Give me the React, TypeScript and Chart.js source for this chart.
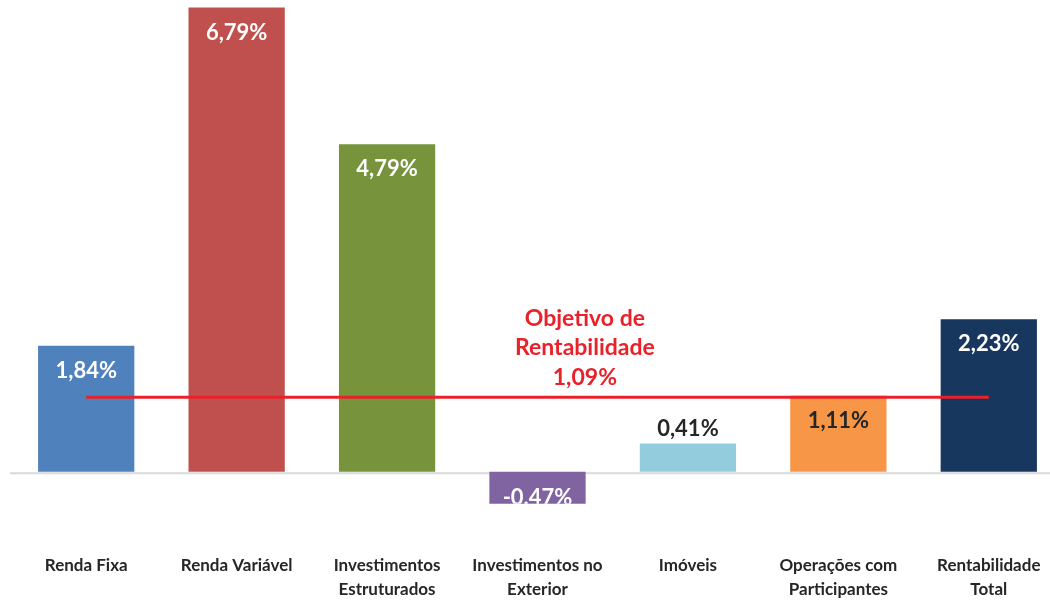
import React, { useEffect, useRef } from 'react';
import { Chart, registerables } from 'chart.js';

Chart.register(...registerables);

// ---- data ----
const categories: string[][] = [
  ['Renda Fixa'],
  ['Renda Variável'],
  ['Investimentos', 'Estruturados'],
  ['Investimentos no', 'Exterior'],
  ['Imóveis'],
  ['Operações com', 'Participantes'],
  ['Rentabilidade', 'Total'],
];
const returns = [1.84, 6.79, 4.79, -0.47, 0.41, 1.11, 2.23];
const returnLabels = ['1,84%', '6,79%', '4,79%', '-0.47%', '0,41%', '1,11%', '2,23%'];
const targetValue = 1.09;
const targetLabel = ['Objetivo de', 'Rentabilidade', '1,09%'];

// ---- styles ----
const barColors = ['#4F81BD', '#C0504D', '#77933C', '#8064A2', '#93CDDD', '#F79646', '#17375E'];
const labelColors = ['#FFFFFF', '#FFFFFF', '#FFFFFF', '#FFFFFF', '#262626', '#262626', '#FFFFFF'];
const RED = '#E8212A';
const FONT = 'Lato, "Open Sans", sans-serif';

const overlayPlugin = {
  id: 'overlay',
  beforeDatasetsDraw(chart: any) {
    const { ctx, chartArea, scales } = chart;
    const y0 = scales.y.getPixelForValue(0);
    ctx.save();
    ctx.strokeStyle = '#D9D9D9';
    ctx.lineWidth = 2;
    ctx.beginPath();
    ctx.moveTo(chartArea.left - 1, y0 + 1.5);
    ctx.lineTo(chartArea.right, y0 + 1.5);
    ctx.stroke();
    ctx.restore();
  },
  afterDatasetsDraw(chart: any) {
    const { ctx, scales } = chart;
    const y0 = scales.y.getPixelForValue(0);
    const meta = chart.getDatasetMeta(1);
    ctx.save();
    ctx.font = `bold 22px ${FONT}`;
    ctx.textAlign = 'center';
    ctx.textBaseline = 'middle';
    meta.data.forEach((el: any, i: number) => {
      const v = returns[i];
      ctx.fillStyle = labelColors[i];
      if (v < 0) {
        ctx.save();
        ctx.beginPath();
        ctx.rect(el.x - el.width / 2, el.base, el.width, el.y - el.base);
        ctx.clip();
        ctx.fillText(returnLabels[i], el.x, y0 + 26);
        ctx.restore();
      } else if (el.base - el.y < 45) {
        ctx.fillText(returnLabels[i], el.x, el.y - 15);
      } else {
        ctx.fillText(returnLabels[i], el.x, el.y + 25);
      }
    });
    // target annotation
    const yt = scales.y.getPixelForValue(targetValue);
    const xs = scales.x;
    const xt = xs.getPixelForValue(3) + (xs.getPixelForValue(4) - xs.getPixelForValue(3)) * 0.315;
    ctx.fillStyle = RED;
    ctx.font = `bold 23px ${FONT}`;
    const lh = 29.5;
    targetLabel.forEach((t, k) => {
      ctx.fillText(t, xt, yt - 20 - (targetLabel.length - 1 - k) * lh);
    });
    ctx.restore();
  },
};

export default function App() {
  const ref = useRef<HTMLCanvasElement>(null);
  useEffect(() => {
    if (!ref.current) return;
    const chart = new Chart(ref.current, {
      type: 'bar',
      data: {
        labels: categories,
        datasets: [
          {
            type: 'line',
            data: categories.map(() => targetValue),
            borderColor: RED,
            borderWidth: 3,
            pointRadius: 0,
            order: 0,
          } as any,
          {
            type: 'bar',
            data: returns,
            backgroundColor: barColors,
            categoryPercentage: 0.8,
            barPercentage: 0.8,
            order: 1,
          },
        ],
      },
      options: {
        animation: false,
        responsive: false,
        layout: { padding: { left: 11, right: 0, top: 0, bottom: 0 } },
        plugins: { legend: { display: false }, tooltip: { enabled: false } },
        scales: {
          y: { display: false, min: -1, max: 6.9 },
          x: {
            grid: { display: false, drawTicks: false },
            border: { display: false },
            ticks: {
              padding: 14,
              color: '#262626',
              maxRotation: 0,
              autoSkip: false,
              font: { family: FONT, weight: 'bold', size: 17, lineHeight: 24 / 17 },
            },
            afterFit: (s: any) => {
              s.height = 61;
            },
          },
        },
      },
      plugins: [overlayPlugin],
    });
    return () => chart.destroy();
  }, []);
  return (
    <div style={{ position: 'absolute', left: 0, top: 0, width: 1050, height: 601, overflow: 'hidden', background: '#fff' }}>
      <canvas ref={ref} width={1064} height={601} style={{ display: 'block' }} />
    </div>
  );
}
